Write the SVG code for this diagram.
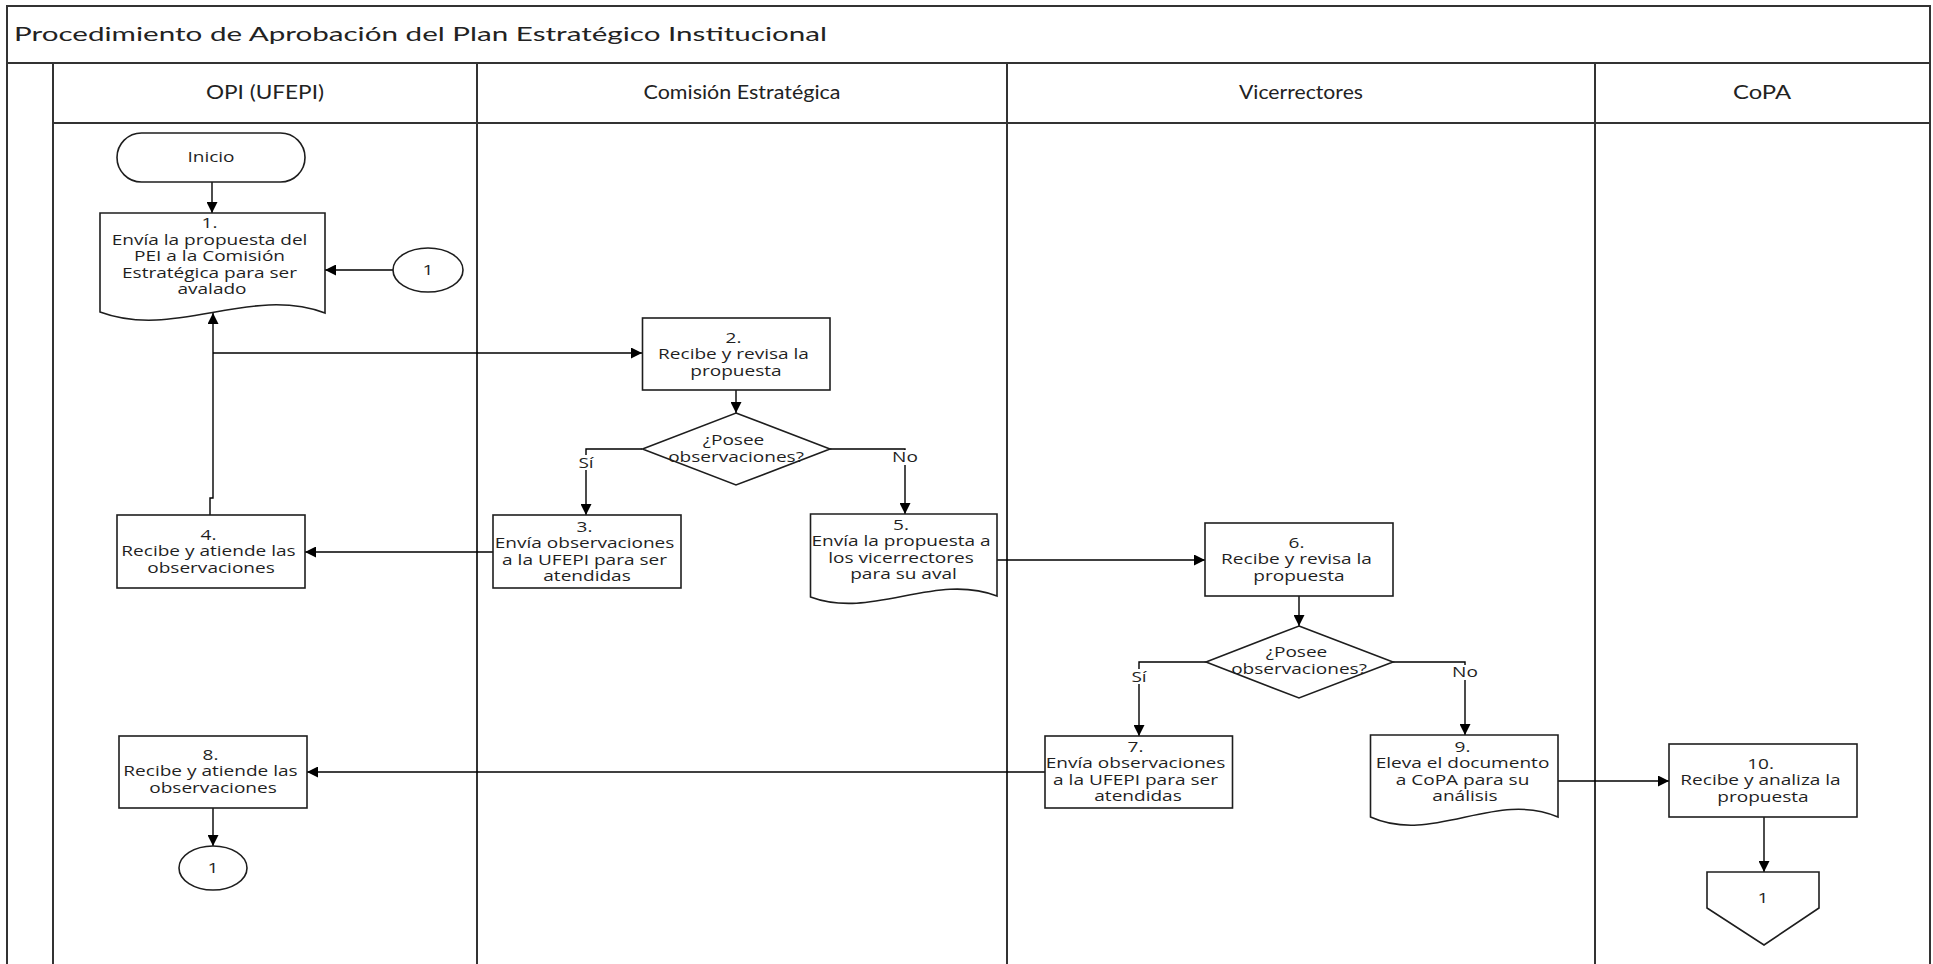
<svg xmlns="http://www.w3.org/2000/svg" width="1933" height="964" viewBox="0 0 1933 964">
  <style>
    .frame { fill: none; stroke: #333; stroke-width: 2; }
    .shape { fill: #fff; stroke: #1e1e1e; stroke-width: 1.6; }
    .conn { fill: none; stroke: #000; stroke-width: 1.4; }
    .hdr { font-family: Lato, "Liberation Sans", sans-serif; font-size: 19px; fill: #222; }
    .lane { font-family: Lato, "Liberation Sans", sans-serif; font-size: 19.5px; fill: #222; text-anchor: middle; }
    .t { font-family: "Open Sans", "DejaVu Sans", sans-serif; font-size: 14px; fill: #1f1f1f; text-anchor: middle; }
    .lbl-bg { fill: #fff; stroke: none; }
  </style>
  <defs>
    <marker id="ah" viewBox="0 0 10 10" refX="10" refY="5" markerWidth="11" markerHeight="11" markerUnits="userSpaceOnUse" orient="auto">
      <path d="M0,0 L10,5 L0,10 z" fill="#000"/>
    </marker>
  </defs>

  <rect width="1933" height="964" fill="#fff"/>

  <!-- swimlane frame -->
  <g id="frame">
    <path class="frame" d="M7,964 V6 H1930 V964"/>
    <line class="frame" x1="7" y1="63" x2="1930" y2="63"/>
    <line class="frame" x1="53" y1="123" x2="1930" y2="123"/>
    <line class="frame" x1="53" y1="63" x2="53" y2="964"/>
    <line class="frame" x1="477" y1="63" x2="477" y2="964"/>
    <line class="frame" x1="1007" y1="63" x2="1007" y2="964"/>
    <line class="frame" x1="1595" y1="63" x2="1595" y2="964"/>
    <text class="hdr" x="14" y="41" textLength="813" lengthAdjust="spacingAndGlyphs">Procedimiento de Aprobación del Plan Estratégico Institucional</text>
    <text class="lane" x="265" y="99" textLength="118" lengthAdjust="spacingAndGlyphs">OPI (UFEPI)</text>
    <text class="lane" x="742" y="99" textLength="197" lengthAdjust="spacingAndGlyphs">Comisión Estratégica</text>
    <text class="lane" x="1301" y="99" textLength="124" lengthAdjust="spacingAndGlyphs">Vicerrectores</text>
    <text class="lane" x="1762" y="99" textLength="58" lengthAdjust="spacingAndGlyphs">CoPA</text>
  </g>

  <!-- connectors -->
  <g id="connectors">
    <path class="conn" d="M212,182 V213" marker-end="url(#ah)"/>
    <path class="conn" d="M393,270 H325" marker-end="url(#ah)"/>
    <path class="conn" d="M210,515 V498 H213 V313" marker-end="url(#ah)"/>
    <path class="conn" d="M213,353 H642" marker-end="url(#ah)"/>
    <path class="conn" d="M736,390 V413" marker-end="url(#ah)"/>
    <path class="conn" d="M642,449 H586 V515" marker-end="url(#ah)"/>
    <path class="conn" d="M830,449 H905 V514" marker-end="url(#ah)"/>
    <path class="conn" d="M493,552 H305" marker-end="url(#ah)"/>
    <path class="conn" d="M997,560 H1205" marker-end="url(#ah)"/>
    <path class="conn" d="M1299,596 V626" marker-end="url(#ah)"/>
    <path class="conn" d="M1206,662 H1139 V736" marker-end="url(#ah)"/>
    <path class="conn" d="M1393,662 H1465 V735" marker-end="url(#ah)"/>
    <path class="conn" d="M1045,772 H307" marker-end="url(#ah)"/>
    <path class="conn" d="M1558,781 H1669" marker-end="url(#ah)"/>
    <path class="conn" d="M213,808 V846" marker-end="url(#ah)"/>
    <path class="conn" d="M1764,817 V872" marker-end="url(#ah)"/>
    <!-- branch labels -->
    <rect class="lbl-bg" x="575" y="455" width="22" height="15"/>
    <text class="t" transform="translate(586 0) scale(1.36 1)" x="0" y="468">Sí</text>
    <rect class="lbl-bg" x="891" y="450" width="28" height="15"/>
    <text class="t" transform="translate(905 0) scale(1.36 1)" x="0" y="462">No</text>
    <rect class="lbl-bg" x="1128" y="669" width="22" height="15"/>
    <text class="t" transform="translate(1139 0) scale(1.36 1)" x="0" y="682">Sí</text>
    <rect class="lbl-bg" x="1451" y="665" width="28" height="15"/>
    <text class="t" transform="translate(1465 0) scale(1.36 1)" x="0" y="677">No</text>
  </g>

  <!-- OPI (UFEPI) lane -->
  <g id="n-inicio">
    <rect class="shape" x="117" y="133" width="188" height="49" rx="24.5"/>
    <text class="t" transform="translate(211 0) scale(1.36 1)" x="0" y="162">Inicio</text>
  </g>
  <g id="n1">
    <path class="shape" d="M100,213 H325 V313 C250,285 175,340 100,312 Z"/>
    <text class="t" transform="translate(212 0) scale(1.36 1)">
      <tspan x="0" y="228">1.</tspan>
      <tspan x="0" y="244.6">Envía la propuesta del</tspan>
      <tspan x="0" y="261.2">PEI a la Comisión</tspan>
      <tspan x="0" y="277.8">Estratégica para ser</tspan>
      <tspan x="0" y="294.4">avalado</tspan>
    </text>
  </g>
  <g id="c1-in">
    <ellipse class="shape" cx="428" cy="270" rx="35" ry="22"/>
    <text class="t" transform="translate(428 0) scale(1.36 1)" x="0" y="275">1</text>
  </g>
  <g id="n4">
    <rect class="shape" x="117" y="515" width="188" height="73"/>
    <text class="t" transform="translate(211 0) scale(1.36 1)">
      <tspan x="0" y="540">4.</tspan>
      <tspan x="0" y="556.4">Recibe y atiende las</tspan>
      <tspan x="0" y="572.9">observaciones</tspan>
    </text>
  </g>
  <g id="n8">
    <rect class="shape" x="119" y="736" width="188" height="72"/>
    <text class="t" transform="translate(213 0) scale(1.36 1)">
      <tspan x="0" y="760">8.</tspan>
      <tspan x="0" y="776.4">Recibe y atiende las</tspan>
      <tspan x="0" y="792.9">observaciones</tspan>
    </text>
  </g>
  <g id="c1-out">
    <ellipse class="shape" cx="213" cy="868" rx="34" ry="22"/>
    <text class="t" transform="translate(213 0) scale(1.36 1)" x="0" y="873">1</text>
  </g>

  <!-- Comisión Estratégica lane -->
  <g id="n2">
    <rect class="shape" x="642.5" y="318" width="187.5" height="72"/>
    <text class="t" transform="translate(736 0) scale(1.36 1)">
      <tspan x="0" y="343">2.</tspan>
      <tspan x="0" y="359.4">Recibe y revisa la</tspan>
      <tspan x="0" y="376">propuesta</tspan>
    </text>
  </g>
  <g id="d1">
    <path class="shape" d="M736,413 L830,449 L736,485 L642.5,449 Z"/>
    <text class="t" transform="translate(736 0) scale(1.36 1)">
      <tspan x="0" y="445">¿Posee</tspan>
      <tspan x="0" y="461.6">observaciones?</tspan>
    </text>
  </g>
  <g id="n3">
    <rect class="shape" x="493" y="515" width="188" height="73"/>
    <text class="t" transform="translate(587 0) scale(1.36 1)">
      <tspan x="0" y="532">3.</tspan>
      <tspan x="0" y="548.4">Envía observaciones</tspan>
      <tspan x="0" y="564.9">a la UFEPI para ser</tspan>
      <tspan x="0" y="581.4">atendidas</tspan>
    </text>
  </g>
  <g id="n5">
    <path class="shape" d="M810.5,514 H997 V596 C935,572 872,620 810.5,597 Z"/>
    <text class="t" transform="translate(903.5 0) scale(1.36 1)">
      <tspan x="0" y="530">5.</tspan>
      <tspan x="0" y="546.4">Envía la propuesta a</tspan>
      <tspan x="0" y="562.9">los vicerrectores</tspan>
      <tspan x="0" y="579.4">para su aval</tspan>
    </text>
  </g>

  <!-- Vicerrectores lane -->
  <g id="n6">
    <rect class="shape" x="1205" y="523" width="188" height="73"/>
    <text class="t" transform="translate(1299 0) scale(1.36 1)">
      <tspan x="0" y="548">6.</tspan>
      <tspan x="0" y="564.4">Recibe y revisa la</tspan>
      <tspan x="0" y="581">propuesta</tspan>
    </text>
  </g>
  <g id="d2">
    <path class="shape" d="M1299,626 L1393,662 L1299,698 L1206,662 Z"/>
    <text class="t" transform="translate(1299 0) scale(1.36 1)">
      <tspan x="0" y="657">¿Posee</tspan>
      <tspan x="0" y="673.6">observaciones?</tspan>
    </text>
  </g>
  <g id="n7">
    <rect class="shape" x="1045" y="736" width="187.5" height="72"/>
    <text class="t" transform="translate(1138 0) scale(1.36 1)">
      <tspan x="0" y="752">7.</tspan>
      <tspan x="0" y="768.5">Envía observaciones</tspan>
      <tspan x="0" y="785">a la UFEPI para ser</tspan>
      <tspan x="0" y="801.5">atendidas</tspan>
    </text>
  </g>
  <g id="n9">
    <path class="shape" d="M1370.5,735 H1558 V817 C1495,790 1433,845 1370.5,817 Z"/>
    <text class="t" transform="translate(1465 0) scale(1.36 1)">
      <tspan x="0" y="752">9.</tspan>
      <tspan x="0" y="768.5">Eleva el documento</tspan>
      <tspan x="0" y="785">a CoPA para su</tspan>
      <tspan x="0" y="801.5">análisis</tspan>
    </text>
  </g>

  <!-- CoPA lane -->
  <g id="n10">
    <rect class="shape" x="1669" y="744" width="188" height="73"/>
    <text class="t" transform="translate(1763 0) scale(1.36 1)">
      <tspan x="0" y="769">10.</tspan>
      <tspan x="0" y="785.4">Recibe y analiza la</tspan>
      <tspan x="0" y="802">propuesta</tspan>
    </text>
  </g>
  <g id="offpage-1">
    <path class="shape" d="M1707,872 H1819 V908 L1764,945 L1707,908 Z"/>
    <text class="t" transform="translate(1763 0) scale(1.36 1)" x="0" y="903">1</text>
  </g>
</svg>
